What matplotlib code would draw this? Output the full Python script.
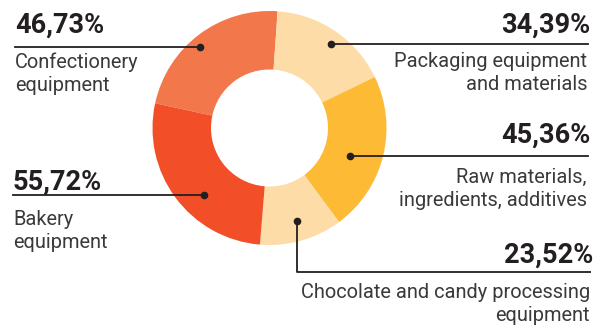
import matplotlib
matplotlib.use("Agg")
import matplotlib.pyplot as plt

# data
categories = ["Confectionery\nequipment", "Packaging equipment\nand materials",
              "Raw materials,\ningredients, additives",
              "Chocolate and candy processing\nequipment", "Bakery\nequipment"]
values = [46.73, 34.39, 45.36, 23.52, 55.72]
value_labels = ["46,73%", "34,39%", "45,36%", "23,52%", "55,72%"]
colors = ["#F2784B", "#FDDCA7", "#FDBA35", "#FDDCA7", "#F24F29"]

W, H = 597, 327
plt.rcParams["font.family"] = ["Roboto", "DejaVu Sans"]

fig = plt.figure(figsize=(W / 100, H / 100), dpi=100)
ax = fig.add_axes([0, 0, 1, 1])

def Y(y):
    return H - y

cx, cy, R = 269.5, Y(128), 117
ax.pie(values, colors=colors, startangle=167.8, counterclock=False,
       center=(cx, cy), radius=R,
       wedgeprops=dict(width=R * 0.5, linewidth=0))
ax.set_xlim(0, W)
ax.set_ylim(0, H)
ax.set_aspect("equal")
ax.axis("off")

dark = "#231F20"
txt = "#3A3A3A"
lw = 1.3
gap = 23

# label layout: dot (px), line end x, side, big text baseline, first label line baseline
layout = [
    dict(dot=(200, 46.5), x=15, side="l", pct_y=33, lab_y=68),
    dict(dot=(331, 43.5), x=588, side="r", pct_y=32.5, lab_y=67),
    dict(dot=(350, 156), x=588, side="r", pct_y=143, lab_y=183),
    dict(dot=(297, 221), x=591, side="r", pct_y=263, lab_y=298, elbow=272),
    dict(dot=(204, 195), x=13, side="l", pct_y=189.5, lab_y=225),
]

for lab, pct, lo in zip(categories, value_labels, layout):
    dx, dy = lo["dot"]
    if "elbow" in lo:
        ax.plot([dx, dx, lo["x"]], [Y(dy), Y(lo["elbow"]), Y(lo["elbow"])],
                color=dark, lw=lw, solid_capstyle="butt")
    else:
        ax.plot([dx, lo["x"]], [Y(dy), Y(dy)], color=dark, lw=lw)
    ax.plot(dx, Y(dy), "o", color=dark, ms=4.5)
    ha = "left" if lo["side"] == "l" else "right"
    ax.text(lo["x"] + (0 if ha == "left" else 2), Y(lo["pct_y"]), pct, ha=ha,
            va="baseline", fontsize=19.5, fontweight="bold", color=dark)
    for i, line in enumerate(lab.split("\n")):
        ax.text(lo["x"] + (0 if ha == "left" else -1), Y(lo["lab_y"] + i * gap),
                line, ha=ha, va="baseline", fontsize=14.4, color=txt)

fig.savefig("out.png", dpi=100)
